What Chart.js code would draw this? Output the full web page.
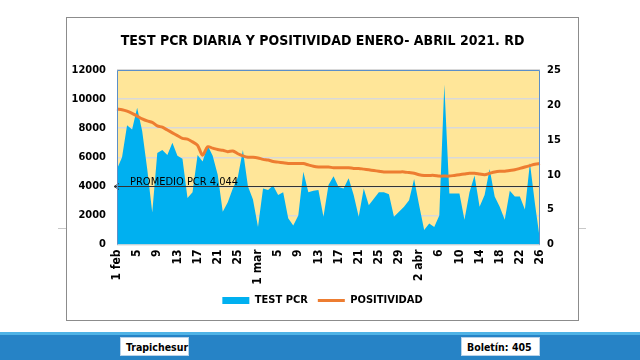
<!DOCTYPE html>
<html>
<head>
<meta charset="utf-8">
<script src="https://cdn.jsdelivr.net/npm/chart.js@4.4.0/dist/chart.umd.min.js"></script>
<style>
  html, body { margin: 0; padding: 0; background: #fff; }
  body { width: 640px; height: 360px; position: relative; overflow: hidden;
         font-family: 'Liberation Sans Narrow', 'DejaVu Sans Condensed', 'Liberation Sans', sans-serif; }
  #slideLine { position: absolute; left: 58px; top: 228px; width: 528px; height: 1px; background: #c8c8c8; }
  #chartBox { position: absolute; left: 66px; top: 17px; width: 511px; height: 302px; border: 1px solid #8c8c8c; background: #fff; }
  #footer { position: absolute; left: 0; top: 332px; width: 640px; height: 25px; background: #2683c6; border-top: 3px solid #4fb3e6; }
  .tag { position: absolute; top: 2px; height: 19px; background: #fff; border: 1px solid #b9d3ea; white-space: nowrap;
         font-weight: bold; font-size: 10.5px; line-height: 18px; padding-left: 5px; box-sizing: border-box; color: #000; }
</style>
</head>
<body>
<div id="slideLine"></div>
<div id="chartBox"><canvas id="pcrChart" width="511" height="302"></canvas></div>
<div id="footer">
  <div class="tag" style="left:120px;width:69px;">Trapichesur</div>
  <div class="tag" style="left:461px;width:79px;">Boletín: 405</div>
</div>
<script>
const FONT = "'Liberation Sans Narrow', 'DejaVu Sans Condensed', 'Liberation Sans', sans-serif";

// 1 feb .. 26 abr, one value per day
const tickLabels = ['1 feb', '5', '9', '13', '17', '21', '25', '1 mar', '5', '9', '13', '17', '21', '25', '29',
  '2 abr', '6', '10', '14', '18', '22', '26'];

const pcrTests = [
  5200, 6000, 8200, 7900, 9400, 7800, 5200, 2200, 6300, 6500,
  6150, 7000, 6100, 5900, 3200, 3600, 6150, 5700, 6800, 6100,
  4800, 2250, 2900, 3850, 4650, 6500, 4000, 3100, 1200, 3850,
  3750, 4050, 3400, 3600, 1800, 1300, 2000, 5000, 3600, 3700,
  3750, 1900, 4100, 4700, 3950, 3850, 4550, 3400, 1900, 3850,
  2700, 3150, 3600, 3600, 3450, 1900, 2250, 2600, 3050, 4500,
  2700, 1000, 1450, 1200, 2000, 11000, 3500, 3500, 3500, 1700,
  3600, 4750, 2600, 3400, 5200, 3300, 2600, 1700, 3700, 3300,
  3300, 2400, 5600, 2800, 300
];

const positividad = [
  19.4, 19.3, 19.1, 18.8, 18.4, 18.0, 17.7, 17.5, 17.0, 16.8,
  16.4, 16.0, 15.6, 15.2, 15.1, 14.7, 14.2, 12.8, 14.0, 13.8,
  13.6, 13.5, 13.3, 13.4, 13.0, 12.7, 12.5, 12.5, 12.4, 12.2,
  12.1, 11.9, 11.8, 11.7, 11.6, 11.6, 11.6, 11.6, 11.4, 11.2,
  11.1, 11.1, 11.1, 11.0, 11.0, 11.0, 11.0, 10.9, 10.9, 10.8,
  10.7, 10.6, 10.5, 10.4, 10.4, 10.4, 10.4, 10.4, 10.3, 10.2,
  10.0, 9.9, 9.9, 9.9, 9.8, 9.8, 9.8, 9.9, 10.0, 10.1,
  10.2, 10.2, 10.1, 10.0, 10.2, 10.4, 10.5, 10.5, 10.6, 10.7,
  10.9, 11.1, 11.3, 11.5, 11.6
];

const promedioPcr = 4044;

const days = pcrTests.map((v, i) => i);

// yellow plot background, plot border and the average line
const plotDecor = {
  id: 'plotDecor',
  beforeDraw(chart) {
    const { ctx, chartArea: a } = chart;
    ctx.save();
    ctx.fillStyle = '#FFE699';
    ctx.fillRect(a.left, a.top, a.right - a.left, a.bottom - a.top);
    ctx.restore();
  },
  afterDatasetsDraw(chart) {
    const { ctx, chartArea: a, scales } = chart;
    const y = Math.round(scales.y.getPixelForValue(promedioPcr)) + 0.5;
    ctx.save();
    ctx.strokeStyle = '#333';
    ctx.lineWidth = 1;
    ctx.beginPath();
    ctx.moveTo(a.left - 3, y);
    ctx.lineTo(a.right, y);
    ctx.moveTo(a.left + 2, y - 3);
    ctx.lineTo(a.left - 3, y);
    ctx.lineTo(a.left + 2, y + 3);
    ctx.stroke();
    ctx.fillStyle = '#000';
    ctx.font = '11px ' + FONT;
    ctx.textBaseline = 'alphabetic';
    ctx.fillText('PROMEDIO PCR ' + promedioPcr.toLocaleString('en-US'), a.left + 13, y - 2);

    ctx.strokeStyle = '#5b8fc9';
    ctx.beginPath();
    ctx.moveTo(a.left + 0.5, a.bottom);
    ctx.lineTo(a.left + 0.5, a.top + 0.5);
    ctx.lineTo(a.right - 0.5, a.top + 0.5);
    ctx.lineTo(a.right - 0.5, a.bottom);
    ctx.stroke();
    ctx.restore();
  }
};

new Chart(document.getElementById('pcrChart'), {
  type: 'line',
  data: {
    labels: days,
    datasets: [
      {
        label: 'POSITIVIDAD',
        data: positividad,
        yAxisID: 'y1',
        borderColor: '#ED7D31',
        backgroundColor: '#ED7D31',
        borderWidth: 3,
        pointRadius: 0,
        pointStyle: 'line',
        tension: 0.3,
        fill: false,
        order: 1
      },
      {
        label: 'TEST PCR',
        data: pcrTests,
        yAxisID: 'y',
        borderColor: '#00B0F0',
        backgroundColor: '#00B0F0',
        borderWidth: 0,
        pointRadius: 0,
        pointStyle: 'rect',
        tension: 0,
        fill: 'origin',
        order: 2
      }
    ]
  },
  options: {
    responsive: false,
    animation: false,
    layout: { padding: { left: 0, right: 0, top: 0, bottom: 4 } },
    plugins: {
      title: {
        display: true,
        text: 'TEST PCR DIARIA Y POSITIVIDAD ENERO- ABRIL 2021. RD',
        color: '#000',
        font: { family: FONT, size: 14, weight: 'bold' },
        padding: { top: 15, bottom: 20.2 }
      },
      legend: {
        position: 'bottom',
        reverse: true,
        labels: {
          usePointStyle: true,
          pointStyleWidth: 27,
          boxHeight: 7,
          padding: 10,
          color: '#000',
          font: { family: FONT, size: 11, weight: 'bold' }
        }
      },
      tooltip: { enabled: false }
    },
    scales: {
      x: {
        grid: { display: false, drawTicks: false },
        border: { display: false },
        ticks: {
          autoSkip: false,
          maxRotation: 90,
          minRotation: 90,
          padding: 5,
          color: '#000',
          font: { family: FONT, size: 12, weight: 'bold' },
          callback: (v, i) => (i % 4 === 0 ? tickLabels[i / 4] : '')
        },
        afterFit(scale) { scale.height = 40.5; }
      },
      y: {
        position: 'left',
        min: 0,
        max: 12000,
        grid: { color: '#d9d9d9', lineWidth: 1.5, drawTicks: false },
        border: { display: false },
        ticks: {
          stepSize: 2000,
          padding: 11,
          color: '#000',
          font: { family: FONT, size: 11, weight: 'bold' },
          callback: (v) => String(v)
        },
        afterFit(scale) { scale.width = 50; }
      },
      y1: {
        position: 'right',
        min: 0,
        max: 25,
        grid: { display: false, drawTicks: false },
        border: { display: false },
        ticks: {
          stepSize: 5,
          padding: 7,
          crossAlign: 'near',
          color: '#000',
          font: { family: FONT, size: 11, weight: 'bold' }
        },
        afterFit(scale) { scale.width = 38; }
      }
    }
  },
  plugins: [plotDecor]
});
</script>
</body>
</html>
